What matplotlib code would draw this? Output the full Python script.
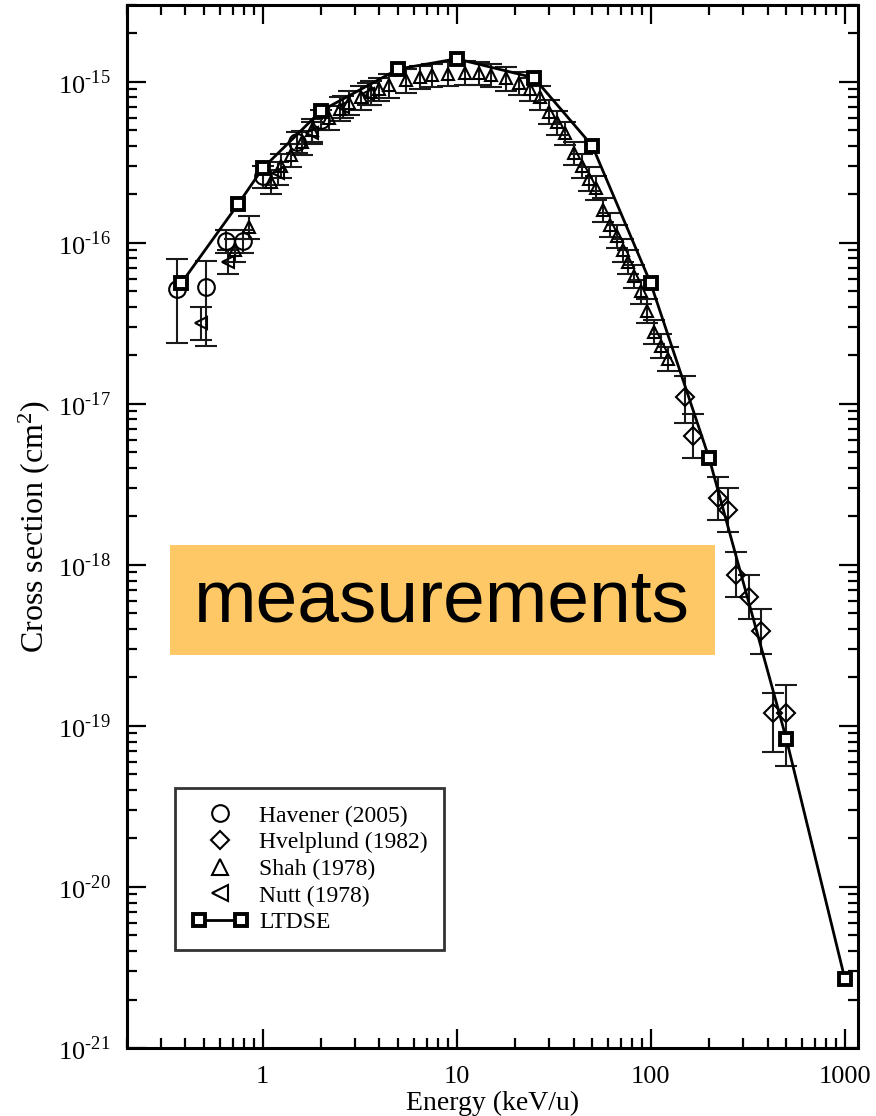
import numpy as np
import matplotlib
matplotlib.use("Agg")
import matplotlib.pyplot as plt
from matplotlib.lines import Line2D
from matplotlib.patches import Rectangle
from matplotlib.legend_handler import HandlerLine2D
from matplotlib.ticker import LogLocator, FixedLocator, FuncFormatter, NullFormatter

plt.rcParams['font.family'] = ['Liberation Serif', 'DejaVu Serif']
plt.rcParams['mathtext.fontset'] = 'custom'
plt.rcParams['mathtext.rm'] = 'Liberation Serif'

# LTDSE theory curve
ltdse_x = [0.38, 0.75, 1, 2, 5, 10, 25, 50, 100, 200, 500, 1000]
ltdse_y = [5.6e-17, 1.75e-16, 2.9e-16, 6.6e-16, 1.2e-15, 1.39e-15, 1.06e-15,
           4.0e-16, 5.6e-17, 4.6e-18, 8.3e-20, 2.7e-21]

# Havener (2005)
hav_x = [0.36, 0.51, 0.645, 0.79, 1.0, 1.5, 2.0]
hav_y = [5.2e-17, 5.3e-17, 1.02e-16, 1.03e-16, 2.6e-16, 4.2e-16, 5.8e-16]
hav_lo = [2.4e-17, 2.3e-17, 8.6e-17, 8.7e-17, 2.2e-16, 3.6e-16, 5.0e-16]
hav_hi = [7.9e-17, 7.7e-17, 1.2e-16, 1.2e-16, 3.0e-16, 4.9e-16, 6.7e-16]

# Hvelplund (1982)
hve_x = [150, 165, 221, 250, 275, 320, 369, 425, 500]
hve_y = [1.1e-17, 6.3e-18, 2.6e-18, 2.2e-18, 8.7e-19, 6.3e-19, 3.9e-19, 1.2e-19, 1.2e-19]
hve_lo = [7.6e-18, 4.6e-18, 1.9e-18, 1.6e-18, 6.3e-19, 4.6e-19, 2.8e-19, 6.9e-20, 5.6e-20]
hve_hi = [1.5e-17, 8.6e-18, 3.5e-18, 3.0e-18, 1.2e-18, 8.6e-19, 5.3e-19, 1.6e-19, 1.8e-19]

# Shah (1978)
shah_x = [0.72, 0.85, 1.1, 1.25, 1.4, 1.6, 1.8, 2.2, 2.5, 2.8, 3.2, 3.6, 4.0, 4.5,
          5.5, 6.5, 7.5, 9, 11, 13, 15, 18, 21, 24, 27, 30, 33, 36, 40, 44, 48,
          52, 57, 62, 67, 72, 76, 82, 89, 96, 104, 113, 123]
shah_y = [9.0e-17, 1.25e-16, 2.4e-16, 3.0e-16, 3.5e-16, 4.2e-16, 5.0e-16, 6.0e-16,
          6.8e-16, 7.4e-16, 8.0e-16, 8.6e-16, 9.0e-16, 9.5e-16, 1.02e-15, 1.07e-15,
          1.1e-15, 1.12e-15, 1.14e-15, 1.13e-15, 1.1e-15, 1.05e-15, 9.8e-16, 9.0e-16,
          8.0e-16, 6.5e-16, 5.6e-16, 4.8e-16, 3.6e-16, 3.0e-16, 2.5e-16, 2.2e-16,
          1.6e-16, 1.3e-16, 1.1e-16, 9.0e-17, 7.6e-17, 6.2e-17, 5.0e-17, 3.8e-17,
          2.8e-17, 2.3e-17, 1.9e-17]

# Nutt (1978)
nutt_x = [0.48, 0.66, 1.2, 1.8, 2.6, 3.5]
nutt_y = [3.2e-17, 7.6e-17, 2.7e-16, 4.8e-16, 7.0e-16, 8.4e-16]
nutt_lo = [2.5e-17, 6.4e-17, 2.3e-16, 4.1e-16, 6.0e-16, 7.2e-16]
nutt_hi = [4.0e-17, 9.0e-17, 3.2e-16, 5.6e-16, 8.2e-16, 9.8e-16]

y_decades = [1e-21, 1e-20, 1e-19, 1e-18, 1e-17, 1e-16, 1e-15]
x_major = [1, 10, 100, 1000]

W, H = 876, 1116
fig = plt.figure(figsize=(W / 100, H / 100), dpi=100)
ax = fig.add_axes([127 / W, 1 - 1048 / H, 731 / W, 1043 / H])

eb = dict(ls='none', ecolor='0.1', elinewidth=1.5, capsize=8, capthick=1.5,
          mfc='none', mec='black', mew=1.5, color='black')

sy = np.array(shah_y)
ax.errorbar(shah_x, shah_y, yerr=[sy * 0.16, sy * 0.18], fmt='^', ms=9, **eb)
ny = np.array(nutt_y)
ax.errorbar(nutt_x, nutt_y, yerr=[ny - np.array(nutt_lo), np.array(nutt_hi) - ny],
            fmt='<', ms=9, **eb)
hy = np.array(hav_y)
ax.errorbar(hav_x, hav_y, yerr=[hy - np.array(hav_lo), np.array(hav_hi) - hy],
            fmt='o', ms=12, **eb)
vy = np.array(hve_y)
ax.errorbar(hve_x, hve_y, yerr=[vy - np.array(hve_lo), np.array(hve_hi) - vy],
            fmt='D', ms=9, **eb)

ax.plot(ltdse_x, ltdse_y, color='black', lw=2, marker='s', ms=9,
        mfc='white', mec='black', mew=2.8, zorder=5)

ax.set_xscale('log')
ax.set_yscale('log')
ax.set_xlim(0.2, 1170)
ax.set_ylim(1e-21, 3e-15)

ax.xaxis.set_major_locator(FixedLocator(x_major))
ax.xaxis.set_major_formatter(FuncFormatter(lambda v, p: '%d' % round(v)))
ax.xaxis.set_minor_locator(LogLocator(base=10, subs=np.arange(2, 10), numticks=20))
ax.xaxis.set_minor_formatter(NullFormatter())
ax.yaxis.set_major_locator(FixedLocator(y_decades))
ax.yaxis.set_major_formatter(FuncFormatter(
    lambda v, p: r'$10^{\text{-}%d}$' % abs(round(np.log10(v)))))
ax.yaxis.set_minor_locator(LogLocator(base=10, subs=np.arange(2, 10), numticks=20))
ax.yaxis.set_minor_formatter(NullFormatter())

ax.tick_params(which='both', direction='in', top=True, right=True, width=1.6,
               labelsize=19)
ax.tick_params(which='major', length=14)
ax.tick_params(which='minor', length=7)
ax.tick_params(axis='x', which='major', pad=13)
ax.tick_params(axis='y', which='major', pad=12)
for s in ax.spines.values():
    s.set_linewidth(2.2)

ax.set_xlabel('Energy (keV/u)', fontsize=20, labelpad=2)
ax.set_ylabel(r'Cross section (cm$\mathregular{^2}$)', fontsize=23, labelpad=4)

handles = [
    Line2D([], [], ls='none', marker='o', ms=12, mfc='none', mec='black', mew=1.5),
    Line2D([], [], ls='none', marker='D', ms=9, mfc='none', mec='black', mew=1.5),
    Line2D([], [], ls='none', marker='^', ms=11, mfc='none', mec='black', mew=1.5),
    Line2D([], [], ls='none', marker='<', ms=11, mfc='none', mec='black', mew=1.5),
    Line2D([], [], color='black', lw=2, marker='s', ms=9, mfc='white', mec='black', mew=2.8),
]
labels = ['Havener (2005)', 'Hvelplund (1982)', 'Shah (1978)', 'Nutt (1978)', 'LTDSE']
leg = ax.legend(handles, labels, loc='lower left', bbox_to_anchor=(0.066, 0.094),
                fontsize=17, frameon=True, fancybox=False, edgecolor='black',
                handlelength=2.4, handletextpad=0.45, borderpad=0.7, borderaxespad=0,
                labelspacing=0.22,
                handler_map={handles[-1]: HandlerLine2D(numpoints=2)},
                numpoints=1)
leg.get_frame().set_linewidth(2)

# orange "measurements" banner
fig.add_artist(Rectangle((170 / W, 1 - 655 / H), 545 / W, 110 / H,
                         transform=fig.transFigure, facecolor='#FDC865',
                         edgecolor='none', zorder=10))
fig.text(442 / W, 1 - 602 / H, 'measurements', fontsize=54, family='Liberation Sans',
         ha='center', va='center', color='black', zorder=11)

fig.savefig('out.png', dpi=100)
